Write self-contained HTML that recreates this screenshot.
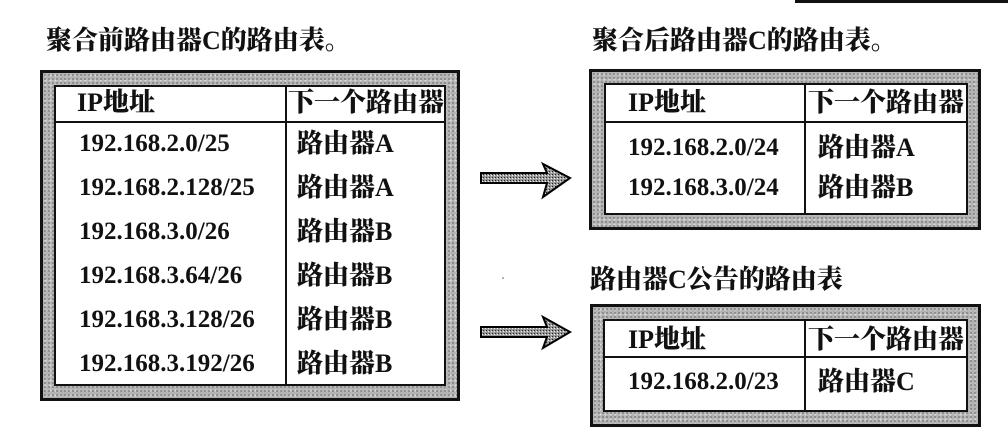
<!DOCTYPE html>
<html><head><meta charset="utf-8"><style>
body{margin:0;width:1008px;height:444px;background:#fff;position:relative;overflow:hidden;font-family:"Liberation Serif","Noto Serif CJK SC",serif;font-weight:bold;color:#111}
.t{position:absolute;font-size:26px;line-height:28px;white-space:nowrap;font-family:"Liberation Serif","Noto Serif CJK SC",serif;font-weight:900}
.box{position:absolute;border:3px solid #111;background:#b4b4b4;background-image:radial-gradient(#888 0.8px,transparent 1.2px),radial-gradient(#ddd 0.8px,transparent 1.2px);background-size:4px 4px,5px 5px;box-sizing:border-box}
.in{position:absolute;border:2px solid #111;background:#fff;box-sizing:border-box}
.h{position:absolute;height:2px;background:#111}
.v{position:absolute;width:2px;background:#111}
.c{position:absolute;font-size:25px;line-height:28px;white-space:nowrap}
.k{position:absolute;font-size:26px;line-height:28px;white-space:nowrap;font-family:"Liberation Serif","Noto Serif CJK SC",serif;font-weight:900}
</style></head><body>
<div style="position:absolute;left:795px;top:0;width:213px;height:3px;background:#111"></div>

<div class="t" style="left:46px;top:27px">聚合前路由器C的路由表。</div>
<div class="t" style="left:592px;top:27px">聚合后路由器C的路由表。</div>
<div class="t" style="left:590px;top:266px">路由器C公告的路由表</div>

<!-- left table -->
<div class="box" style="left:40px;top:70px;width:420px;height:331px"></div>
<div class="in" style="left:54px;top:85px;width:392px;height:301px"></div>
<div class="h" style="left:54px;top:121px;width:392px"></div>
<div class="v" style="left:285px;top:85px;height:301px"></div>
<div class="k" style="left:77px;top:89px">IP地址</div>
<div class="k" style="left:288px;top:89px">下一个路由器</div>
<div class="c" style="left:79px;top:130px">192.168.2.0/25</div><div class="k" style="left:297px;top:130px">路由器A</div>
<div class="c" style="left:79px;top:174px">192.168.2.128/25</div><div class="k" style="left:297px;top:174px">路由器A</div>
<div class="c" style="left:79px;top:218px">192.168.3.0/26</div><div class="k" style="left:297px;top:218px">路由器B</div>
<div class="c" style="left:79px;top:262px">192.168.3.64/26</div><div class="k" style="left:297px;top:262px">路由器B</div>
<div class="c" style="left:79px;top:306px">192.168.3.128/26</div><div class="k" style="left:297px;top:306px">路由器B</div>
<div class="c" style="left:79px;top:350px">192.168.3.192/26</div><div class="k" style="left:297px;top:350px">路由器B</div>

<!-- top right table -->
<div class="box" style="left:589px;top:69px;width:392px;height:161px"></div>
<div class="in" style="left:604px;top:83px;width:364px;height:132px"></div>
<div class="h" style="left:604px;top:121px;width:364px"></div>
<div class="v" style="left:804px;top:83px;height:132px"></div>
<div class="k" style="left:628px;top:89px">IP地址</div>
<div class="k" style="left:808px;top:89px">下一个路由器</div>
<div class="c" style="left:628px;top:134px">192.168.2.0/24</div><div class="k" style="left:818px;top:134px">路由器A</div>
<div class="c" style="left:628px;top:174px">192.168.3.0/24</div><div class="k" style="left:818px;top:174px">路由器B</div>

<!-- bottom right table -->
<div class="box" style="left:590px;top:304px;width:391px;height:123px"></div>
<div class="in" style="left:603px;top:319px;width:365px;height:93px"></div>
<div class="h" style="left:603px;top:356px;width:365px"></div>
<div class="v" style="left:804px;top:319px;height:93px"></div>
<div class="k" style="left:628px;top:326px">IP地址</div>
<div class="k" style="left:808px;top:326px">下一个路由器</div>
<div class="c" style="left:628px;top:368px">192.168.2.0/23</div><div class="k" style="left:818px;top:368px">路由器C</div>

<svg style="position:absolute;left:0;top:0" width="1008" height="444">
<defs><pattern id="p" width="3" height="3" patternUnits="userSpaceOnUse"><rect width="3" height="3" fill="#999"/><rect width="1" height="1" fill="#222"/><rect x="2" y="1" width="1" height="1" fill="#eee"/></pattern></defs>
<polygon points="481,173 547,173 543,164 570,178 543,197 547,183 481,183" fill="url(#p)" stroke="#000" stroke-width="2"/>
<polygon points="481,327 547,327 543,317 570,332 543,348 547,337 481,337" fill="url(#p)" stroke="#000" stroke-width="2"/>
<circle cx="503" cy="278" r="0.8" fill="#555"/>
</svg>
</body></html>
